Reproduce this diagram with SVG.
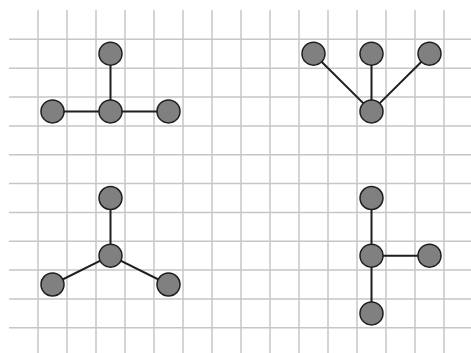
<svg xmlns="http://www.w3.org/2000/svg" width="471" height="353" viewBox="0 0 471 353">
<style>
.grid line{stroke:#c6c6c6;stroke-width:1.5}
.edge{stroke:#1e1e1e;stroke-width:2;fill:none}
.node{fill:#808080;stroke:#1e1e1e;stroke-width:1.5}
</style>
<rect width="471" height="353" fill="#ffffff"/>
<g class="grid">
<line x1="38" y1="10" x2="38" y2="353"/>
<line x1="67" y1="10" x2="67" y2="353"/>
<line x1="96" y1="10" x2="96" y2="353"/>
<line x1="125" y1="10" x2="125" y2="353"/>
<line x1="154" y1="10" x2="154" y2="353"/>
<line x1="183" y1="10" x2="183" y2="353"/>
<line x1="212" y1="10" x2="212" y2="353"/>
<line x1="241" y1="10" x2="241" y2="353"/>
<line x1="270" y1="10" x2="270" y2="353"/>
<line x1="299" y1="10" x2="299" y2="353"/>
<line x1="328" y1="10" x2="328" y2="353"/>
<line x1="357" y1="10" x2="357" y2="353"/>
<line x1="386" y1="10" x2="386" y2="353"/>
<line x1="415" y1="10" x2="415" y2="353"/>
<line x1="444" y1="10" x2="444" y2="353"/>
<line x1="9" y1="39.3" x2="471" y2="39.3"/>
<line x1="9" y1="68.2" x2="471" y2="68.2"/>
<line x1="9" y1="97" x2="471" y2="97"/>
<line x1="9" y1="125.9" x2="471" y2="125.9"/>
<line x1="9" y1="154.7" x2="471" y2="154.7"/>
<line x1="9" y1="183.6" x2="471" y2="183.6"/>
<line x1="9" y1="212.4" x2="471" y2="212.4"/>
<line x1="9" y1="241.3" x2="471" y2="241.3"/>
<line x1="9" y1="270.1" x2="471" y2="270.1"/>
<line x1="9" y1="299" x2="471" y2="299"/>
<line x1="9" y1="327.8" x2="471" y2="327.8"/>
</g>
<g id="connectors">
<line class="edge" x1="110.5" y1="53.7" x2="110.5" y2="111.4"/>
<line class="edge" x1="52.5" y1="111.4" x2="168.5" y2="111.4"/>
<line class="edge" x1="313.5" y1="53.7" x2="371.5" y2="111.4"/>
<line class="edge" x1="371.5" y1="53.7" x2="371.5" y2="111.4"/>
<line class="edge" x1="429.5" y1="53.7" x2="371.5" y2="111.4"/>
<line class="edge" x1="110.5" y1="198" x2="110.5" y2="255.7"/>
<line class="edge" x1="110.5" y1="255.7" x2="52.5" y2="284.5"/>
<line class="edge" x1="110.5" y1="255.7" x2="168.5" y2="284.5"/>
<line class="edge" x1="371.5" y1="198" x2="371.5" y2="313.4"/>
<line class="edge" x1="371.5" y1="255.7" x2="429.5" y2="255.7"/>
</g>
<g id="n1"><circle class="node" cx="110.5" cy="53.7" r="11.5"/></g>
<g id="n2"><circle class="node" cx="52.5" cy="111.4" r="11.5"/></g>
<g id="n3"><circle class="node" cx="110.5" cy="111.4" r="11.5"/></g>
<g id="n4"><circle class="node" cx="168.5" cy="111.4" r="11.5"/></g>
<g id="n5"><circle class="node" cx="313.5" cy="53.7" r="11.5"/></g>
<g id="n6"><circle class="node" cx="371.5" cy="53.7" r="11.5"/></g>
<g id="n7"><circle class="node" cx="429.5" cy="53.7" r="11.5"/></g>
<g id="n8"><circle class="node" cx="371.5" cy="111.4" r="11.5"/></g>
<g id="n9"><circle class="node" cx="110.5" cy="198" r="11.5"/></g>
<g id="n10"><circle class="node" cx="110.5" cy="255.7" r="11.5"/></g>
<g id="n11"><circle class="node" cx="52.5" cy="284.5" r="11.5"/></g>
<g id="n12"><circle class="node" cx="168.5" cy="284.5" r="11.5"/></g>
<g id="n13"><circle class="node" cx="371.5" cy="198" r="11.5"/></g>
<g id="n14"><circle class="node" cx="371.5" cy="255.7" r="11.5"/></g>
<g id="n15"><circle class="node" cx="429.5" cy="255.7" r="11.5"/></g>
<g id="n16"><circle class="node" cx="371.5" cy="313.4" r="11.5"/></g>
</svg>
